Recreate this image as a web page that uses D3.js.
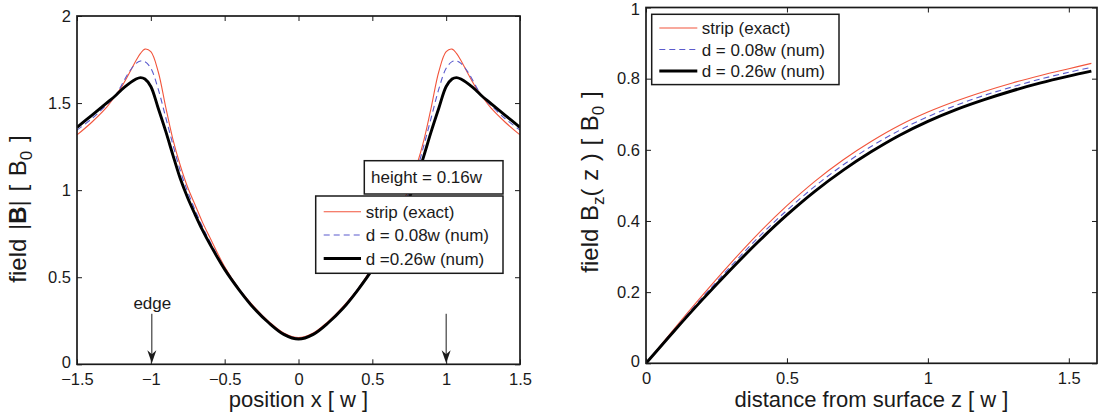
<!DOCTYPE html>
<html><head><meta charset="utf-8">
<script src="https://cdn.jsdelivr.net/npm/d3@7"></script>
<style>
html,body{margin:0;padding:0;background:#fff;}
svg{display:block;font-family:"Liberation Sans",Arial,Helvetica,sans-serif;}
</style></head>
<body><svg id="c" width="1098" height="418"></svg>
<script>
// ---------- data: left panel (field magnitude vs position) ----------
const posX = [-1.5,-1.4,-1.3,-1.24,-1.2,-1.15,-1.1,-1.07,-1.04,-1.0,-0.95,-0.9,-0.85,-0.8,-0.75,-0.7,-0.65,-0.6,-0.5,-0.4,-0.3,-0.2,-0.1,0,
              0.1,0.2,0.3,0.4,0.5,0.6,0.65,0.7,0.75,0.8,0.85,0.9,0.95,1.0,1.04,1.07,1.1,1.15,1.2,1.24,1.3,1.4,1.5];
const stripExact = [1.317,1.39,1.475,1.542,1.59,1.665,1.745,1.785,1.81,1.795,1.68,1.48,1.29,1.14,1.015,0.915,0.815,0.728,0.56,0.43,0.33,0.245,0.18,0.153,
              0.18,0.245,0.33,0.43,0.56,0.728,0.815,0.915,1.015,1.14,1.29,1.48,1.68,1.795,1.81,1.785,1.745,1.665,1.59,1.542,1.475,1.39,1.317];
const numD008 = [1.345,1.41,1.49,1.542,1.60,1.675,1.728,1.742,1.738,1.70,1.58,1.42,1.26,1.11,0.99,0.885,0.79,0.705,0.552,0.43,0.326,0.241,0.176,0.149,
              0.176,0.241,0.326,0.43,0.552,0.705,0.79,0.885,0.99,1.11,1.26,1.42,1.58,1.70,1.738,1.742,1.728,1.675,1.60,1.542,1.49,1.41,1.345];
const numD026 = [1.361,1.43,1.50,1.542,1.575,1.61,1.638,1.646,1.638,1.595,1.47,1.34,1.20,1.065,0.955,0.86,0.77,0.69,0.545,0.425,0.32,0.237,0.172,0.145,
              0.172,0.237,0.32,0.425,0.545,0.69,0.77,0.86,0.955,1.065,1.20,1.34,1.47,1.595,1.638,1.646,1.638,1.61,1.575,1.542,1.50,1.43,1.361];
const edgeX = [-1, 1];
const edgeArrowTop = 0.29;
const leftXTicks = [-1.5,-1,-0.5,0,0.5,1,1.5];
const leftXTickLabels = ["\u22121.5","\u22121","\u22120.5","0","0.5","1","1.5"];
const leftYTicks = [0,0.5,1,1.5,2];
const leftYTickLabels = ["0","0.5","1","1.5","2"];

// ---------- data: right panel (Bz vs distance) ----------
const distZ = [0,0.1,0.2,0.3,0.4,0.5,0.6,0.7,0.8,0.9,1.0,1.1,1.2,1.3,1.4,1.5,1.58];
const bzStrip = [0,0.097,0.191,0.281,0.366,0.443,0.512,0.572,0.624,0.669,0.706,0.737,0.764,0.788,0.809,0.828,0.843];
const bzD008  = [0,0.094,0.185,0.272,0.355,0.43,0.498,0.558,0.61,0.655,0.693,0.725,0.753,0.777,0.799,0.818,0.832];
const bzD026  = [0,0.091,0.179,0.263,0.343,0.417,0.484,0.543,0.595,0.641,0.68,0.713,0.741,0.766,0.788,0.807,0.821];
const rightXTicks = [0,0.5,1,1.5];
const rightXTickLabels = ["0","0.5","1","1.5"];
const rightYTicks = [0,0.2,0.4,0.6,0.8,1];
const rightYTickLabels = ["0","0.2","0.4","0.6","0.8","1"];

const seriesNames = ["strip (exact)","d = 0.08w (num)","d =0.26w (num)"];
const seriesNamesRight = ["strip (exact)","d = 0.08w (num)","d = 0.26w (num)"];
const annotation = "height = 0.16w";

// ---------- styles ----------
const styles = [
  {color:"#f2553c", width:1.1, dash:null},
  {color:"#5a5acd", width:1.1, dash:"6,4"},
  {color:"#000000", width:2.9, dash:null}
];
const ink = "#1a1a1a";
const tickFont = 16.5;
const textFont = 17;
const titleFont = 22;

const svg = d3.select("#c");

function panel(cfg){
  const g = svg.append("g");
  const x = d3.scaleLinear().domain(cfg.xDomain).range([cfg.x0, cfg.x1]);
  const y = d3.scaleLinear().domain(cfg.yDomain).range([cfg.y1, cfg.y0]);
  const clipId = "clip"+cfg.id;
  svg.append("clipPath").attr("id",clipId).append("rect")
    .attr("x",cfg.x0).attr("y",cfg.y0).attr("width",cfg.x1-cfg.x0).attr("height",cfg.y1-cfg.y0);

  const ax = [
    g.append("g").attr("transform",`translate(0,${cfg.y1})`)
      .call(d3.axisBottom(x).tickValues(cfg.xTicks).tickFormat((d,i)=>cfg.xLabels[i]).tickSize(-5).tickPadding(8.5)),
    g.append("g").attr("transform",`translate(0,${cfg.y0})`)
      .call(d3.axisTop(x).tickValues(cfg.xTicks).tickFormat("").tickSize(-5)),
    g.append("g").attr("transform",`translate(${cfg.x0},0)`)
      .call(d3.axisLeft(y).tickValues(cfg.yTicks).tickFormat((d,i)=>cfg.yLabels[i]).tickSize(-5).tickPadding(6)),
    g.append("g").attr("transform",`translate(${cfg.x1},0)`)
      .call(d3.axisRight(y).tickValues(cfg.yTicks).tickFormat("").tickSize(-5))
  ];
  ax.forEach(a=>{
    a.select(".domain").remove();
    a.selectAll("line").attr("stroke",ink).attr("stroke-width",1);
    a.selectAll("text").attr("fill",ink).style("font-size",tickFont+"px")
      .style("font-family",'"Liberation Sans",Arial,Helvetica,sans-serif');
  });
  // keep the top y label inside the page, lowest one clear of the x labels
  const yTexts = ax[2].selectAll("text").nodes();
  d3.select(yTexts[yTexts.length-1]).attr("dy", cfg.topDy || "0.32em");
  d3.select(yTexts[0]).attr("dy","0.22em");

  const line = d3.line().x(d=>x(d[0])).y(d=>y(d[1])).curve(d3.curveCatmullRom.alpha(0.5));
  const lg = g.append("g").attr("clip-path",`url(#${clipId})`);
  cfg.series.forEach((s,i)=>{
    const pts = cfg.xs.map((v,k)=>[v,s[k]]);
    lg.append("path").attr("d",line(pts)).attr("fill","none")
      .attr("stroke",styles[i].color).attr("stroke-width",styles[i].width)
      .attr("stroke-dasharray",styles[i].dash).attr("stroke-linejoin","round");
  });

  g.append("rect").attr("x",cfg.x0).attr("y",cfg.y0).attr("width",cfg.x1-cfg.x0).attr("height",cfg.y1-cfg.y0)
    .attr("fill","none").attr("stroke",ink).attr("stroke-width",1.7);
  return {g,x,y};
}

function legend(g, box, names){
  g.append("rect").attr("x",box.x).attr("y",box.y).attr("width",box.w).attr("height",box.h)
    .attr("fill","#fff").attr("stroke",ink).attr("stroke-width",1.5);
  names.forEach((n,i)=>{
    const yy = box.rows[i];
    g.append("line").attr("x1",box.lx0).attr("x2",box.lx1).attr("y1",yy).attr("y2",yy)
      .attr("stroke",styles[i].color).attr("stroke-width",styles[i].width)
      .attr("stroke-dasharray",styles[i].dash);
    g.append("text").attr("x",box.tx).attr("y",yy+6).text(n)
      .attr("fill",ink).style("font-size",textFont+"px");
  });
}

// ---------- left panel ----------
const L = panel({id:"L", x0:77, x1:520, y0:16, y1:364.3, xDomain:[-1.5,1.5], yDomain:[0,2],
  xTicks:leftXTicks, xLabels:leftXTickLabels, yTicks:leftYTicks, yLabels:leftYTickLabels,
  xs:posX, series:[stripExact,numD008,numD026]});

edgeX.forEach((ex,i)=>{
  const px = L.x(ex)+ (i===0?1:0), top = L.y(edgeArrowTop), bot = L.y(0)-1;
  L.g.append("line").attr("x1",px).attr("x2",px).attr("y1",top).attr("y2",bot-8)
    .attr("stroke",ink).attr("stroke-width",1);
  L.g.append("path").attr("d",`M${px},${bot} L${px-4.5},${bot-13} L${px},${bot-9} L${px+4.5},${bot-13} Z`)
    .attr("fill",ink);
});
L.g.append("text").attr("x",L.x(edgeX[0])+1.5).attr("y",308.5).attr("text-anchor","middle")
  .text("edge").attr("fill",ink).style("font-size",textFont+"px");

L.g.append("rect").attr("x",364.3).attr("y",160.7).attr("width",138.7).attr("height",33.3)
  .attr("fill","#fff").attr("stroke",ink).attr("stroke-width",1.5);
L.g.append("text").attr("x",371).attr("y",183).text(annotation).attr("fill",ink).style("font-size",textFont+"px");

legend(L.g, {x:315.7,y:196,w:187.3,h:77.3,rows:[211.7,235,258.5],lx0:323.7,lx1:361,tx:365.7}, seriesNames);

L.g.append("text").attr("x",298.5).attr("y",407).attr("text-anchor","middle")
  .style("font-size",titleFont+"px").attr("fill",ink).text("position x [ w ]");
const yl = L.g.append("text").attr("transform","translate(26,209) rotate(-90)").attr("text-anchor","middle")
  .style("font-size","24px").style("word-spacing","2px").attr("fill",ink);
yl.append("tspan").text("field |");
yl.append("tspan").text("B").style("font-weight","bold");
yl.append("tspan").text("| [ B");
yl.append("tspan").text("0").attr("dy",6).style("font-size","17px");
yl.append("tspan").text(" ]").attr("dy",-6);

// ---------- right panel ----------
const R = panel({id:"R", x0:646, x1:1097, y0:7.5, y1:363.3, xDomain:[0,1.6], yDomain:[0,1], topDy:"0.45em",
  xTicks:rightXTicks, xLabels:rightXTickLabels, yTicks:rightYTicks, yLabels:rightYTickLabels,
  xs:distZ, series:[bzStrip,bzD008,bzD026]});

legend(R.g, {x:651.7,y:14.3,w:187.3,h:70.3,rows:[28,49.5,71],lx0:659.3,lx1:697.3,tx:701.7}, seriesNamesRight);

R.g.append("text").attr("x",871.5).attr("y",407).attr("text-anchor","middle")
  .style("font-size",titleFont+"px").attr("fill",ink).text("distance from surface z [ w ]");
const yr = R.g.append("text").attr("transform","translate(598,182) rotate(-90)").attr("text-anchor","middle")
  .style("font-size","24px").style("word-spacing","1px").attr("fill",ink);
yr.append("tspan").text("field B");
yr.append("tspan").text("z").attr("dy",6).style("font-size","17px");
yr.append("tspan").text("( z ) [ B").attr("dy",-6);
yr.append("tspan").text("0").attr("dy",6).style("font-size","17px");
yr.append("tspan").text(" ]").attr("dy",-6);
</script></body></html>
